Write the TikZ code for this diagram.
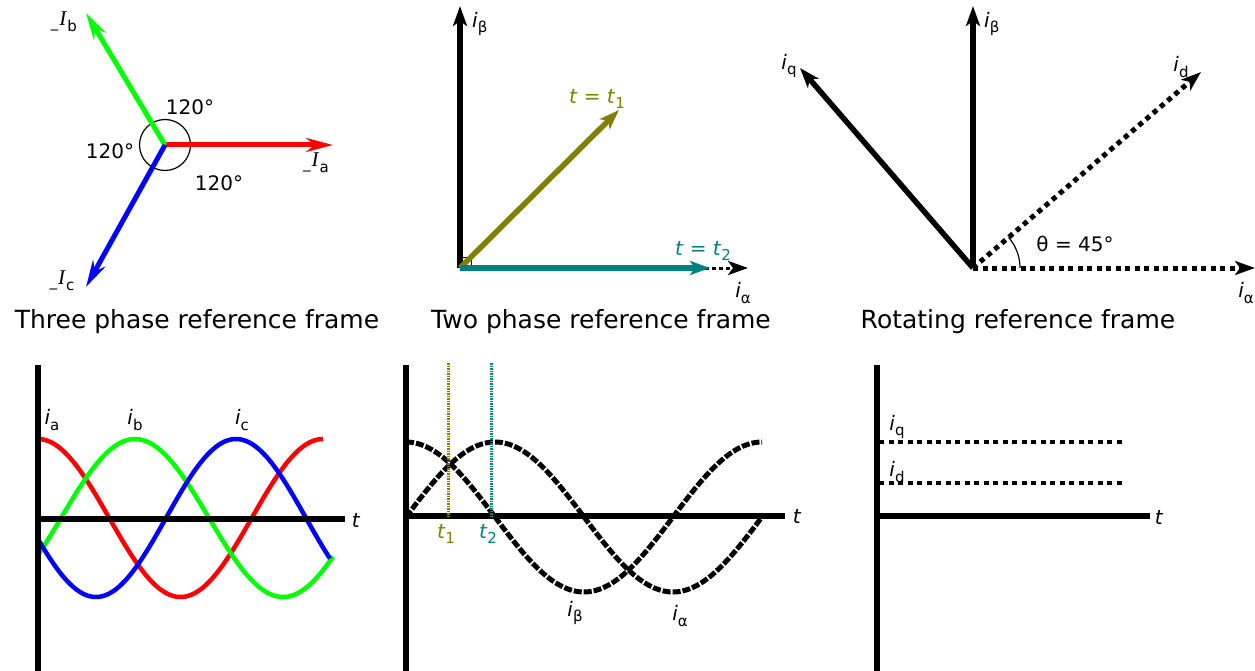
\documentclass[tikz,border=0pt]{standalone}
\usepackage{fontspec}
\setmainfont{DejaVu Sans}
\newfontfamily\serfam{Liberation Serif}
\usetikzlibrary{arrows.meta}
\definecolor{olv}{RGB}{128,128,0}
\definecolor{tl}{RGB}{0,128,128}
\definecolor{rd}{RGB}{255,0,0}
\definecolor{gr}{RGB}{0,255,0}
\definecolor{bl}{RGB}{0,0,255}
\newcommand\sbs[1]{\raisebox{-0.28em}{\fontsize{15}{15}\selectfont #1}}
\newcommand\lbl[2]{\textit{#1}\sbs{#2}}
\newcommand\phs[1]{\raisebox{-0.1em}{\fontsize{15}{15}\selectfont\_}\kern1pt{\fontsize{21}{21}\selectfont\serfam\itshape I}\kern1pt\sbs{#1}}
\tikzset{
  lab/.style={inner sep=0pt, font=\fontsize{20}{20}\selectfont},
  ttl/.style={inner sep=0pt, anchor=base, font=\fontsize{25}{25}\selectfont},
  phasor/.style={line width=5pt, -{Stealth[length=27pt,width=14pt,inset=9pt]}},
  vec/.style={line width=5.5pt, -{Stealth[length=20pt,width=14pt,inset=5pt]}},
  dotvec/.style={line width=5pt, dash pattern=on 5pt off 4.5pt, -{Stealth[length=20pt,width=14pt,inset=5pt]}},
  thinaxis/.style={line width=3pt, dash pattern=on 3.5pt off 3.5pt, -{Stealth[length=20pt,width=14pt,inset=5pt]}},
  axisline/.style={line width=5.5pt},
  wave/.style={line width=4.5pt},
  dwave/.style={line width=5pt, dash pattern=on 8pt off 2pt},
  dline/.style={line width=4pt, dash pattern=on 5pt off 4.5pt},
  marker/.style={line width=3pt, dash pattern=on 1.5pt off 1pt},
}
\begin{document}
\begin{tikzpicture}[x=1pt,y=-1pt]
\useasboundingbox (0,0) rectangle (1255,671);

% ---------- Three phase phasors ----------
\coordinate (O1) at (165,145);
\coordinate (Ia) at (333,145);
\coordinate (Ib) at (86,13);
\coordinate (Ic) at (86,287);
\draw[line width=1.2pt] (O1) circle[radius=25.5];
\draw[phasor, rd] (O1) -- (Ia);
\draw[phasor, gr] (O1) -- (Ib);
\draw[phasor, bl] (O1) -- (Ic);
\node[lab] (lIa) at (316,163) {\phs{a}};
\node[lab] (lIb) at (64,22) {\phs{b}};
\node[lab] (lIc) at (62,281) {\phs{c}};
\node[lab] (ang1) at (190,107) {120°};
\node[lab] (ang2) at (110,151) {120°};
\node[lab] (ang3) at (219,183) {120°};
\node[ttl] (t1title) at (197,328) {Three phase reference frame};

% ---------- Two phase ----------
\coordinate (O2) at (460,268);
\coordinate (B2) at (460,6);
\coordinate (A2) at (748,268);
\coordinate (T1) at (619,110);
\coordinate (T2) at (710,268);
\draw[vec] (O2) -- (B2);
\draw[thinaxis] (O2) -- (A2);
\draw[line width=1pt] ([yshift=11pt]O2) -| ([xshift=11pt]O2);
\draw[vec, olv] (O2) -- (T1);
\draw[vec, tl] (O2) -- (T2);
\node[lab, anchor=west] (lb2) at (472,24) {\lbl{i}{β}};
\node[lab] (la2) at (743,293) {\lbl{i}{α}};
\node[lab, text=olv] (lt1) at (597,99) {\textit{t} = \textit{t}\sbs{1}};
\node[lab, text=tl] (lt2) at (703,251) {\textit{t} = \textit{t}\sbs{2}};
\node[ttl] (t2title) at (601,328) {Two phase reference frame};

% ---------- Rotating ----------
\coordinate (O3) at (973,268);
\coordinate (B3) at (973,6);
\coordinate (Q3) at (800,68);
\coordinate (D3) at (1201,72);
\coordinate (A3) at (1255,268);
\draw[vec] (O3) -- (B3);
\draw[vec] (O3) -- (Q3);
\draw[dotvec] (O3) -- (D3);
\draw[dotvec] (O3) -- (A3);
\draw[line width=1.2pt] (O3) ++(47,0) arc[start angle=0, end angle=-40.7, radius=47];
\node[lab, anchor=west] (lb3) at (984,24) {\lbl{i}{β}};
\node[lab] (lq3) at (789,66) {\lbl{i}{q}};
\node[lab] (ld3) at (1181,67) {\lbl{i}{d}};
\node[lab] (la3) at (1246,293) {\lbl{i}{α}};
\node[lab] (lth) at (1075,244) {θ = 45°};
\node[ttl] (t3title) at (1018,328) {Rotating reference frame};

% ---------- Bottom left waves ----------
\coordinate (V1a) at (38,365);
\coordinate (V1b) at (38,671);
\coordinate (H1a) at (38,519);
\coordinate (H1b) at (345,519);
\draw[wave, rd] plot[domain=38:323, samples=120, smooth] (\x, {518-79*cos((\x-38)/142.5*180)});
\draw[wave, gr] plot[domain=37:333, samples=120, smooth] (\x, {518-79*cos((\x-135)/148*180)});
\draw[wave, bl] plot[domain=38:330, samples=120, smooth] (\x, {518-79*cos((\x-236)/140*180)});
\draw[axisline] (V1a) -- (V1b);
\draw[axisline] (H1a) -- (H1b);
\node[lab] (lt_1) at (356,520) {\textit{t}};
\node[lab] (lia) at (52,420) {\lbl{i}{a}};
\node[lab] (lib) at (135,420) {\lbl{i}{b}};
\node[lab] (lic) at (242,420) {\lbl{i}{c}};

% ---------- Bottom middle waves ----------
\coordinate (V2a) at (406,365);
\coordinate (V2b) at (406,671);
\coordinate (H2a) at (406,516);
\coordinate (H2b) at (785,516);
\coordinate (M1a) at (448,363);
\coordinate (M1b) at (448,516);
\coordinate (M2a) at (491,363);
\coordinate (M2b) at (491,516);
\draw[axisline] (H2a) -- (H2b);
\draw[dwave] plot[domain=406:762, samples=150, smooth] (\x, {517-75*cos((\x-406)/356*360)});
\draw[dwave] plot[domain=406:764, samples=150, smooth] (\x, {517-75*sin((\x-406)/356*360)});
\draw[marker, olv] (M1a) -- (M1b);
\draw[marker, tl] (M2a) -- (M2b);
\draw[axisline] (V2a) -- (V2b);
\node[lab] (lt_2) at (797,516) {\textit{t}};
\node[lab, text=olv] (lt1b) at (446,534) {\textit{t}\sbs{1}};
\node[lab, text=tl] (lt2b) at (488,534) {\textit{t}\sbs{2}};
\node[lab] (lbb) at (575,613) {\lbl{i}{β}};
\node[lab] (lab2) at (680,616) {\lbl{i}{α}};

% ---------- Bottom right ----------
\coordinate (V3a) at (877,365);
\coordinate (V3b) at (877,671);
\coordinate (H3a) at (877,516);
\coordinate (H3b) at (1150,516);
\coordinate (Q3a) at (879,442);
\coordinate (Q3b) at (1122,442);
\coordinate (D3a) at (879,483);
\coordinate (D3b) at (1122,483);
\draw[axisline] (V3a) -- (V3b);
\draw[axisline] (H3a) -- (H3b);
\draw[dline] (Q3a) -- (Q3b);
\draw[dline] (D3a) -- (D3b);
\node[lab] (lt_3) at (1159,517) {\textit{t}};
\node[lab] (liq) at (897,427) {\lbl{i}{q}};
\node[lab] (lid) at (897,472) {\lbl{i}{d}};
\end{tikzpicture}
\end{document}
